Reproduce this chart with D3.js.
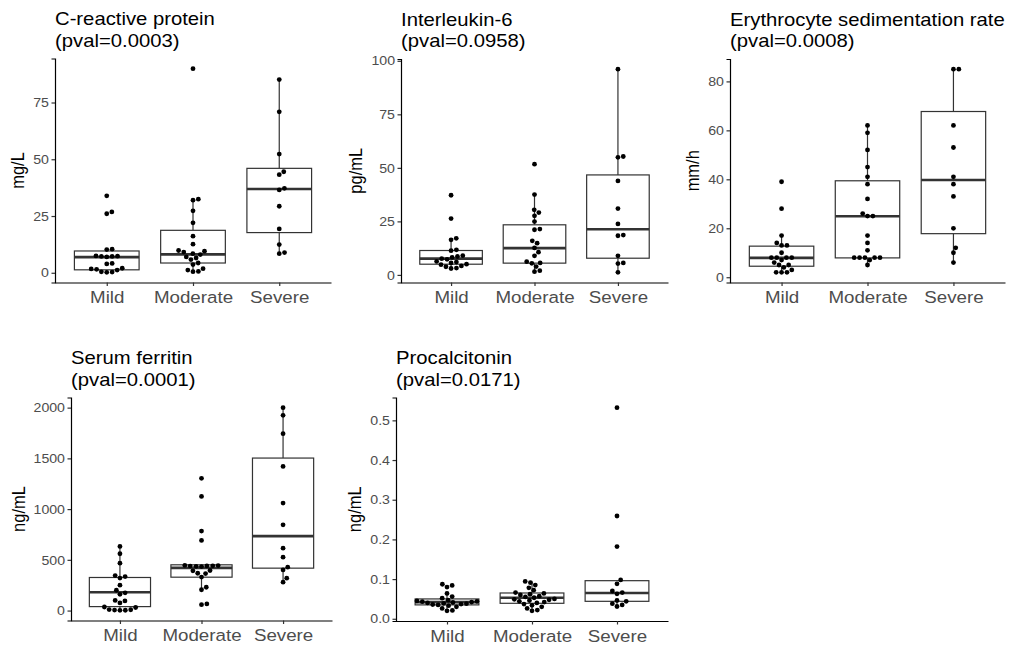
<!DOCTYPE html>
<html>
<head>
<meta charset="utf-8">
<script src="https://cdn.jsdelivr.net/npm/d3@7"></script>
<style>
  body { margin: 0; background: #fff; }
  text { font-family: "Liberation Sans", Arial, sans-serif; }
</style>
</head>
<body>
<div id="chart"></div>
<script>
// categories
var groups = ["Mild", "Moderate", "Severe"];

var titles = ["C-reactive protein", "Interleukin-6", "Erythrocyte sedimentation rate", "Serum ferritin", "Procalcitonin"];
var pvals = ["0.0003", "0.0958", "0.0008", "0.0001", "0.0171"];
var units = ["mg/L", "pg/mL", "mm/h", "ng/mL", "ng/mL"];

// y tick labels
var crpTicks = [0, 25, 50, 75];
var il6Ticks = [0, 25, 50, 75, 100];
var esrTicks = [0, 20, 40, 60, 80];
var ferTicks = [0, 500, 1000, 1500, 2000];
var pctTicks = [0, 0.1, 0.2, 0.3, 0.4, 0.5];

// individual patients
var crpMild = [33.9, 26.8, 26.0, 10.4, 10.2, 7.4, 7.3, 7.2, 7.2, 7.0, 4.1, 3.9, 2.0, 1.7, 1.5, 1.2, 0.4, 0.3, 0.2];
var crpModerate = [89.9, 32.4, 32.0, 27.3, 22.0, 16.1, 12.6, 9.8, 9.5, 9.1, 8.4, 8.0, 7.0, 6.5, 5.8, 4.3, 3.6, 1.8, 1.2, 0.6, 0.5];
var crpSevere = [85.1, 70.9, 52.3, 44.5, 43.2, 37.2, 36.5, 29.3, 19.3, 12.4, 8.9, 8.4];

var il6Mild = [37.2, 26.3, 17.1, 16.4, 11.7, 11.3, 9.0, 8.6, 8.2, 7.6, 7.3, 6.3, 6.0, 5.6, 5.0, 4.8, 4.2, 3.8, 3.2, 3.0];
var il6Moderate = [51.7, 37.5, 30.4, 29.1, 27.6, 24.9, 21.4, 21.1, 15.9, 14.8, 12.6, 10.6, 8.9, 6.2, 5.6, 5.4, 3.9, 2.0, 1.5];
var il6Severe = [96.1, 55.3, 54.9, 43.9, 31.0, 23.8, 18.6, 18.3, 8.9, 5.6, 5.3, 1.2];

var esrMild = [39, 28, 17, 14, 13, 13, 10, 8, 8, 8, 8, 7, 6, 5, 5, 4, 3, 2, 2, 2];
var esrModerate = [62, 59, 52, 45, 41, 38, 32, 26, 25, 25, 17, 14, 11, 8, 8, 8, 8, 8, 7, 5];
var esrSevere = [85, 85, 62, 53, 41, 38, 33, 20, 12, 10, 6];

var ferMild = [632, 560, 467, 345, 335, 320, 250, 200, 175, 160, 100, 95, 75, 35, 30, 10, 8, 5, 3, 2];
var ferModerate = [1303, 1125, 783, 691, 445, 443, 441, 440, 438, 436, 434, 395, 392, 368, 365, 330, 230, 205, 65, 58];
var ferSevere = [2000, 1924, 1743, 1421, 1059, 845, 615, 526, 428, 401, 319, 280];

var pctMild = [0.087, 0.084, 0.080, 0.064, 0.056, 0.052, 0.047, 0.045, 0.044, 0.043, 0.042, 0.041, 0.040, 0.039, 0.038, 0.037, 0.036, 0.035, 0.033, 0.030, 0.026, 0.021, 0.020];
var pctModerate = [0.094, 0.091, 0.085, 0.078, 0.072, 0.066, 0.064, 0.062, 0.060, 0.057, 0.055, 0.053, 0.050, 0.049, 0.048, 0.046, 0.044, 0.042, 0.040, 0.037, 0.034, 0.030, 0.026, 0.022, 0.020];
var pctSevere = [0.532, 0.259, 0.182, 0.098, 0.088, 0.070, 0.066, 0.063, 0.046, 0.044, 0.038, 0.035, 0.031];

// boxes: [lower whisker, q1, median, q3, upper whisker] per group
var crpBoxes = [[0.2, 1.3, 6.9, 9.6, 10.4], [0.5, 4.3, 8.1, 18.7, 32.4], [8.4, 17.7, 36.9, 46.0, 85.1]];
var il6Boxes = [[3.0, 5.0, 7.6, 11.4, 17.1], [1.5, 5.5, 12.5, 23.4, 37.5], [1.2, 7.8, 21.3, 46.7, 96.1]];
var esrBoxes = [[2, 4.5, 7.9, 12.7, 17], [5, 7.9, 24.9, 39.4, 62], [6, 17.8, 39.7, 67.7, 85]];
var ferBoxes = [[2, 39, 181, 326, 632], [205, 329, 421, 451, 451], [280, 418, 734, 1503, 2000]];
var pctBoxes = [[0.020, 0.035, 0.042, 0.050, 0.064], [0.020, 0.039, 0.053, 0.065, 0.094], [0.031, 0.044, 0.065, 0.096, 0.098]];

var panels = [
  { pts: [crpMild, crpModerate, crpSevere], boxes: crpBoxes, ticks: crpTicks, fmt: d3.format("d") },
  { pts: [il6Mild, il6Moderate, il6Severe], boxes: il6Boxes, ticks: il6Ticks, fmt: d3.format("d") },
  { pts: [esrMild, esrModerate, esrSevere], boxes: esrBoxes, ticks: esrTicks, fmt: d3.format("d") },
  { pts: [ferMild, ferModerate, ferSevere], boxes: ferBoxes, ticks: ferTicks, fmt: d3.format("d") },
  { pts: [pctMild, pctModerate, pctSevere], boxes: pctBoxes, ticks: pctTicks, fmt: d3.format(".1f") }
];

// plot areas (layout only)
var frames = [
  { x0: 55, x1: 331, y0: 58.5, y1: 282.5 },
  { x0: 401, x1: 668, y0: 59, y1: 282.5 },
  { x0: 730, x1: 1005, y0: 59, y1: 282.5 },
  { x0: 71, x1: 332, y0: 397.5, y1: 620.5 },
  { x0: 396, x1: 668, y0: 397.5, y1: 621 }
];

// the source picture is a little wider than tall, so text is stretched sideways
var SX = 1.09;

var svg = d3.select("#chart").append("svg")
    .attr("width", 1015)
    .attr("height", 650);

function stretch(sel) {
  sel.each(function() {
    var t = d3.select(this);
    var tx = +t.attr("x") || 0, ty = +t.attr("y") || 0;
    t.attr("x", 0).attr("y", 0)
      .attr("transform", "translate(" + tx + "," + ty + ") scale(" + SX + ",1)");
  });
}

// simple swarm: sorted by value, each point goes to the nearest free spot
function swarm(ys, d) {
  var order = ys.map(function(y, i) { return i; }).sort(function(a, b) { return ys[b] - ys[a]; });
  var placed = [];
  var xs = new Array(ys.length);
  order.forEach(function(i) {
    var y = ys[i];
    var cands = [0];
    placed.forEach(function(p) {
      var dy = Math.abs(p.y - y);
      if (dy < d) {
        var dx = Math.sqrt(d * d - dy * dy);
        cands.push(p.x + dx, p.x - dx);
      }
    });
    cands.sort(function(a, b) { return Math.abs(a) - Math.abs(b); });
    var x = cands.find(function(c) {
      return placed.every(function(p) {
        return (p.x - c) * (p.x - c) + (p.y - y) * (p.y - y) >= d * d - 0.01;
      });
    });
    xs[i] = x;
    placed.push({ x: x, y: y });
  });
  return xs;
}

panels.forEach(function(p, k) {
  var f = frames[k];
  var all = [].concat(p.pts[0], p.pts[1], p.pts[2]);
  var ext = d3.extent(all);
  var pad = (ext[1] - ext[0]) * 0.05;

  var x = d3.scaleLinear().domain([0.4, 3.6]).range([f.x0, f.x1]);
  var y = d3.scaleLinear().domain([ext[0] - pad, ext[1] + pad]).range([f.y1, f.y0]);
  var step = x(2) - x(1);
  var bw = step * 0.75;

  var g = svg.append("g");

  // title
  g.append("text").attr("x", f.x0).attr("y", f.y0 - 33.5)
    .attr("font-size", 18.6).attr("fill", "#000").text(titles[k]);
  g.append("text").attr("x", f.x0).attr("y", f.y0 - 12)
    .attr("font-size", 18.6).attr("fill", "#000").text("(pval=" + pvals[k] + ")");
  stretch(g.selectAll("text"));

  // boxes
  p.boxes.forEach(function(b, i) {
    var cx = x(i + 1);
    g.append("line").attr("x1", cx).attr("x2", cx).attr("y1", y(b[0])).attr("y2", y(b[1]))
      .attr("stroke", "#333").attr("stroke-width", 1.2);
    g.append("line").attr("x1", cx).attr("x2", cx).attr("y1", y(b[3])).attr("y2", y(b[4]))
      .attr("stroke", "#333").attr("stroke-width", 1.2);
    g.append("rect").attr("x", cx - bw / 2).attr("width", bw)
      .attr("y", y(b[3])).attr("height", y(b[1]) - y(b[3]))
      .attr("fill", "#fff").attr("stroke", "#333").attr("stroke-width", 1.2);
    g.append("line").attr("x1", cx - bw / 2).attr("x2", cx + bw / 2)
      .attr("y1", y(b[2])).attr("y2", y(b[2]))
      .attr("stroke", "#333").attr("stroke-width", 2.6);
  });

  // dots
  p.pts.forEach(function(vals, i) {
    var ys = vals.map(function(v) { return y(v); });
    var xs = swarm(ys, 5.4);
    g.selectAll(null).data(vals).enter().append("circle")
      .attr("cx", function(d, j) { return x(i + 1) + xs[j]; })
      .attr("cy", function(d, j) { return ys[j]; })
      .attr("r", 2.4)
      .attr("fill", "#000");
  });

  // axes
  var ya = g.append("g").attr("transform", "translate(" + f.x0 + ",0)")
    .call(d3.axisLeft(y).tickValues(p.ticks).tickFormat(p.fmt).tickSize(3.5).tickPadding(2.5));
  ya.select(".domain").attr("stroke", "#000").attr("stroke-width", 1.2);
  ya.selectAll(".tick line").attr("stroke", "#333").attr("stroke-width", 1.2);
  ya.selectAll(".tick text").attr("fill", "#4d4d4d").attr("font-size", 13)
    .attr("font-family", "Liberation Sans, Arial, sans-serif");
  stretch(ya.selectAll(".tick text"));

  var xa = g.append("g").attr("transform", "translate(0," + f.y1 + ")")
    .call(d3.axisBottom(x).tickValues([1, 2, 3]).tickFormat(function(d) { return groups[d - 1]; })
      .tickSize(3.5).tickPadding(5).tickSizeOuter(0));
  xa.select(".domain").attr("stroke", "#000").attr("stroke-width", 1.2);
  xa.selectAll(".tick line").attr("stroke", "#333").attr("stroke-width", 1.2);
  xa.selectAll(".tick text").attr("fill", "#4d4d4d").attr("font-size", 17.2)
    .attr("font-family", "Liberation Sans, Arial, sans-serif");
  stretch(xa.selectAll(".tick text"));

  // y title, left of the widest tick label
  var tb = ya.node().getBBox();
  var tx = f.x0 + tb.x - 9;
  g.append("text")
    .attr("transform", "translate(" + tx + "," + ((f.y0 + f.y1) / 2) + ") rotate(-90) scale(1," + SX + ")")
    .attr("text-anchor", "middle")
    .attr("font-size", 16.5).attr("fill", "#000")
    .text(units[k]);
});
</script>
</body>
</html>
